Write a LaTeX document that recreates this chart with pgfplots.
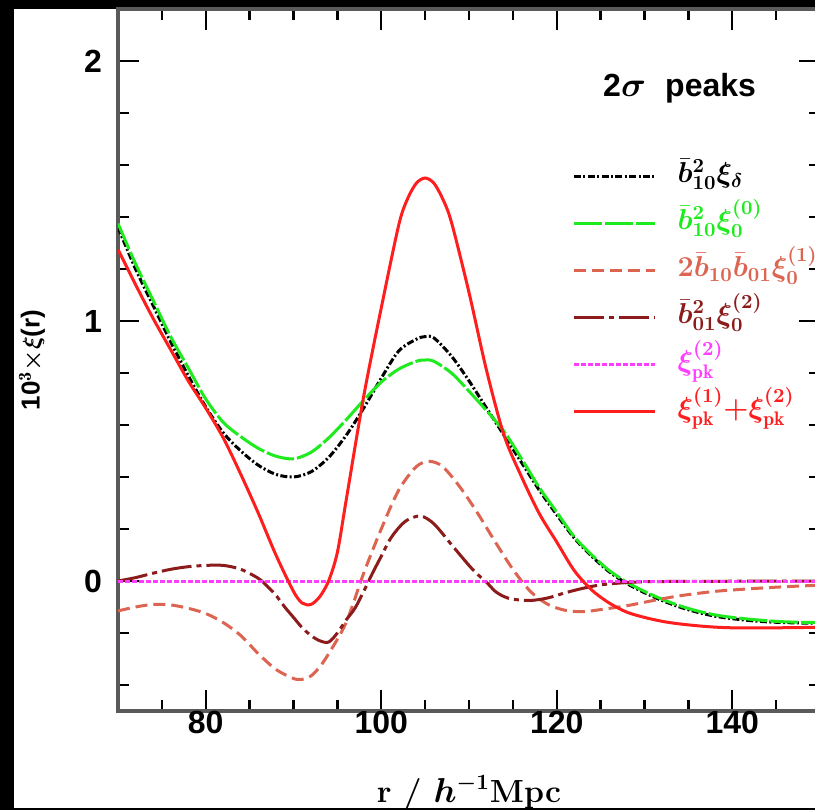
\documentclass[border=0pt]{standalone}
\usepackage{amsmath,amssymb,bm}
\usepackage{fontspec}
\setsansfont{Liberation Sans}
\usepackage{pgfplots}
\pgfplotsset{compat=1.18}
\definecolor{pkgreen}{HTML}{1EEB1E}
\definecolor{pksalmon}{HTML}{DC6450}
\definecolor{pkdarkred}{HTML}{8C1C1C}
\definecolor{pkmagenta}{HTML}{FF3CFF}
\definecolor{pkred}{HTML}{FF1E1E}
\definecolor{pkspine}{HTML}{5A5A5A}
\pgfplotsset{
  longline/.style={legend image code/.code={\draw[##1] (0pt,0pt) -- (40.5pt,0pt);}},
}

\begin{document}
\begin{tikzpicture}
\path[use as bounding box] (0,0) rectangle (407.5pt,405pt);
\clip (0,0) rectangle (407.5pt,405pt);
% black frame round the white sheet
\fill[black] (0,0) rectangle (407.5pt,405pt);
\fill[white] (7pt,1pt) rectangle (407.5pt,400.5pt);

\begin{axis}[
  at={(59pt,49.5pt)}, anchor=south west,
  scale only axis, width=351pt, height=351pt,
  xmin=70, xmax=150, ymin=-0.5, ymax=2.2,
  xtick={80,100,120,140}, xticklabels={80,100,120,140},
  minor xtick={75,85,90,95,105,110,115,125,130,135,145},
  ytick={0,1,2}, yticklabels={0,1,2},
  minor ytick={-0.4,-0.2,0.2,0.4,0.6,0.8,1.2,1.4,1.6,1.8},
  tick align=inside,
  major tick length=10.5pt, minor tick length=5.5pt,
  tick style={black, line width=1.2pt},
  axis line style={draw=pkspine, line width=2pt},
  ticklabel style={font=\sffamily\bfseries\fontsize{16}{16}\selectfont},
  yticklabel style={xshift=-4.5pt},
  xticklabel style={yshift=3.25pt},
  xlabel={\bfseries r / $\bm{h^{-1}}$Mpc},
  xlabel style={font=\fontsize{16}{16}\selectfont, at={(axis description cs:0.5,-0.117)}, anchor=center},
  ylabel={\sffamily\bfseries 10$^{\mathbf{3}}{\bm{\times}}\bm{\xi}$(r)},
  ylabel style={font=\fontsize{13}{13}\selectfont, at={(axis description cs:-0.1225,0.5)}, anchor=center},
  longline,
  legend style={draw=none, fill=none, inner sep=0pt,
    at={(axis description cs:0.647,0.793)}, anchor=north west,
    font=\fontsize{14}{14}\selectfont,
    nodes={inner sep=0pt, text height=14pt, text depth=8pt},
    row sep=1.5pt, column sep=10.5pt},
  legend cell align=left,
  every axis plot/.append style={line width=1.5pt},
]
\node[font=\sffamily\bfseries\fontsize{16}{16}\selectfont] at (axis description cs:0.80,0.8875) {2$\bm{\sigma}$\hspace{0.6em}peaks};

% b10^2 xi_delta
\addplot[black, smooth, dash pattern=on 3.5pt off 1.2pt on 1pt off 1.2pt] coordinates {
  (70,1.36) (72,1.20) (74,1.06) (76,0.92) (78,0.79) (80,0.67) (82,0.57) (84,0.50)
  (86,0.445) (88,0.41) (90,0.40) (92,0.42) (94,0.475) (96,0.56) (98,0.665) (100,0.78)
  (102,0.885) (104,0.93) (105,0.94) (106,0.935) (108,0.865) (110,0.77) (112,0.665)
  (114,0.56) (116,0.455) (118,0.35) (120,0.255) (122,0.165) (124,0.095) (126,0.035)
  (128,-0.01) (130,-0.045) (132,-0.075) (134,-0.10) (136,-0.12) (138,-0.135)
  (140,-0.145) (143,-0.155) (146,-0.16) (150,-0.163)
};
\addlegendentry{$\bm{\bar{b}^2_{10}\xi_\delta}$}

% b10^2 xi_0^(0)
\addplot[pkgreen, smooth, dash pattern=on 14pt off 1.5pt] coordinates {
  (70,1.375) (72,1.22) (74,1.08) (76,0.94) (78,0.82) (80,0.70) (82,0.61) (84,0.555)
  (86,0.51) (88,0.48) (90,0.47) (92,0.495) (94,0.55) (96,0.62) (98,0.695) (100,0.765)
  (102,0.815) (104,0.845) (105,0.85) (106,0.845) (108,0.80) (110,0.73) (112,0.655)
  (114,0.575) (116,0.47) (118,0.36) (120,0.265) (122,0.17) (124,0.10) (126,0.04)
  (128,-0.005) (130,-0.04) (132,-0.07) (134,-0.095) (136,-0.115) (138,-0.13)
  (140,-0.14) (143,-0.15) (146,-0.157) (150,-0.16)
};
\addlegendentry{\textcolor{pkgreen}{$\bm{\bar{b}^2_{10}\xi_0^{(0)}}$}}

% 2 b10 b01 xi_0^(1)
\addplot[pksalmon, smooth, dash pattern=on 6pt off 3pt] coordinates {
  (70,-0.115) (72,-0.10) (74,-0.09) (76,-0.092) (78,-0.105) (80,-0.125) (82,-0.16)
  (84,-0.21) (86,-0.28) (88,-0.34) (90,-0.375) (91,-0.378) (92,-0.365) (93,-0.33)
  (94,-0.28) (96,-0.16) (98,0.03) (100,0.20) (102,0.35) (104,0.44) (105.5,0.46)
  (107,0.44) (109,0.36) (111,0.26) (113,0.15) (115,0.045) (117,-0.04) (119,-0.09)
  (121,-0.113) (123,-0.118) (125,-0.11) (128,-0.095) (131,-0.075) (134,-0.057)
  (138,-0.04) (142,-0.03) (146,-0.022) (150,-0.016)
};
\addlegendentry{\textcolor{pksalmon}{$\bm{2\bar{b}_{10}\bar{b}_{01}\xi_0^{(1)}}$}}

% b01^2 xi_0^(2)
\addplot[pkdarkred, smooth, dash pattern=on 15pt off 2.5pt on 2.5pt off 2.5pt] coordinates {
  (70,0) (72,0.013) (74,0.03) (76,0.045) (78,0.055) (80,0.06) (82,0.06) (84,0.045)
  (86,0.01) (87,-0.02) (88,-0.055) (89,-0.10) (90,-0.14) (91,-0.18) (92,-0.21)
  (93,-0.23) (94,-0.235) (95,-0.20) (96,-0.15) (97,-0.105) (98,-0.04) (99,0.03)
  (100,0.095) (101,0.16) (102,0.205) (103,0.235) (104.5,0.25) (106,0.22) (108,0.14)
  (110,0.06) (111,0.025) (112,-0.005) (113,-0.04) (114,-0.06) (115,-0.07)
  (117,-0.075) (119,-0.065) (121,-0.045) (123,-0.028) (125,-0.015) (128,-0.006)
  (132,-0.002) (150,0)
};
\addlegendentry{\textcolor{pkdarkred}{$\bm{\bar{b}^2_{01}\xi_0^{(2)}}$}}

% xi_pk^(2)
\addplot[pkmagenta, dash pattern=on 2.5pt off 1pt] coordinates {
  (70,0) (90,0) (110,0) (130,0) (150,0)
};
\addlegendentry{\textcolor{pkmagenta}{$\bm{\xi_{\mathrm{pk}}^{(2)}}$}}

% xi_pk^(1) + xi_pk^(2)
\addplot[pkred, smooth] coordinates {
  (70,1.275) (72,1.14) (74,1.01) (76,0.89) (78,0.77) (80,0.665) (82,0.55) (84,0.41)
  (86,0.26) (88,0.10) (90,-0.04) (91,-0.085) (92,-0.09) (93,-0.06) (94,0.0)
  (95,0.11) (96,0.31) (98,0.71) (100,1.05) (102,1.37) (103,1.47) (104,1.53)
  (105,1.55) (106,1.53) (107,1.47) (108,1.38) (110,1.11) (112,0.81) (114,0.56)
  (116,0.40) (118,0.26) (120,0.15) (122,0.04) (124,-0.035) (126,-0.085)
  (128,-0.12) (130,-0.14) (132,-0.155) (134,-0.165) (137,-0.175) (140,-0.18)
  (145,-0.18) (150,-0.178)
};
\addlegendentry{\textcolor{pkred}{$\bm{\xi_{\mathrm{pk}}^{(1)}{+}\xi_{\mathrm{pk}}^{(2)}}$}}
\end{axis}
\end{tikzpicture}
\end{document}
